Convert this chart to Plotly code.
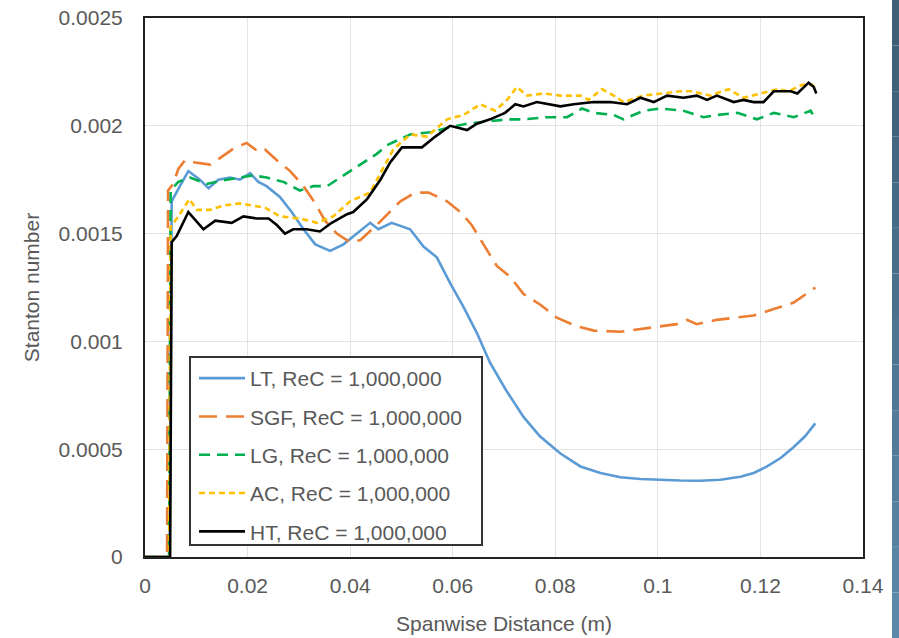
import plotly.graph_objects as go

# ---------------- data ----------------
lt_x = [0, 0.0048, 0.0052, 0.0062, 0.0068, 0.00845, 0.0107, 0.0124, 0.0143, 0.0166, 0.0185, 0.0205, 0.0221, 0.0237,
        0.0263, 0.0286, 0.0309, 0.0332, 0.0361, 0.0387, 0.0413, 0.0439, 0.0455, 0.0481, 0.0517, 0.0543, 0.0569,
        0.0595, 0.0621, 0.0647, 0.0673, 0.0705, 0.0738, 0.077, 0.081, 0.0849, 0.0888, 0.0927, 0.0966, 0.1005,
        0.1044, 0.1083, 0.1122, 0.1161, 0.1187, 0.1213, 0.124, 0.1265, 0.1287, 0.1307]
lt_y = [0, 0, 0.00165, 0.00169, 0.00172, 0.00179, 0.00175, 0.00171, 0.00175, 0.00176, 0.00175, 0.00178, 0.00174,
        0.00172, 0.00167, 0.0016, 0.00152, 0.00145, 0.00142, 0.00145, 0.0015, 0.00155, 0.00152, 0.00155, 0.00152,
        0.00144, 0.00139, 0.00127, 0.00116, 0.00104, 0.0009, 0.00077, 0.00065, 0.00056, 0.00048, 0.00042, 0.00039,
        0.00037, 0.000362, 0.000357, 0.000355, 0.000354, 0.000358, 0.000372, 0.00039, 0.00042, 0.00046, 0.00051,
        0.00056, 0.00062]

sgf_x = [0, 0.0043, 0.0045, 0.0055, 0.0065, 0.0078, 0.0098, 0.0127, 0.0146, 0.0176, 0.0198, 0.0221, 0.0234, 0.0257,
         0.0283, 0.0309, 0.0332, 0.0351, 0.0374, 0.04, 0.042, 0.0452, 0.0498, 0.0527, 0.0553, 0.0589, 0.0615, 0.0637,
         0.066, 0.0686, 0.0712, 0.0738, 0.0771, 0.0803, 0.0842, 0.0875, 0.0927, 0.0972, 0.1005, 0.1037, 0.1057,
         0.1076, 0.1115, 0.1148, 0.1187, 0.1226, 0.1265, 0.1307]
sgf_y = [0, 0, 0.0017, 0.00173, 0.0018, 0.00184, 0.00183, 0.00182, 0.00185, 0.0019, 0.00192, 0.00188, 0.00189,
         0.00184, 0.00179, 0.00172, 0.00164, 0.00156, 0.0015, 0.00146, 0.00147, 0.00154, 0.00165, 0.00169, 0.00169,
         0.00165, 0.0016, 0.00154, 0.00145, 0.00135, 0.0013, 0.00122, 0.00117, 0.00111, 0.00107, 0.00105, 0.001045,
         0.00106, 0.00107, 0.00108, 0.0011, 0.00108, 0.0011, 0.00111, 0.00112, 0.00115, 0.00118, 0.00125]

lg_x = [0, 0.0047, 0.005, 0.0065, 0.0088, 0.012, 0.0159, 0.0185, 0.0211, 0.0237, 0.027, 0.0302, 0.0328, 0.0355,
        0.0394, 0.042, 0.0452, 0.0472, 0.0517, 0.0556, 0.0589, 0.0628, 0.0673, 0.0706, 0.0738, 0.0784, 0.0823,
        0.0852, 0.0875, 0.0914, 0.0933, 0.0972, 0.1005, 0.105, 0.1089, 0.1115, 0.1155, 0.1193, 0.1226, 0.1265,
        0.1298, 0.1307]
lg_y = [0, 0, 0.0017, 0.00174, 0.00176, 0.00173, 0.00175, 0.00176, 0.00177, 0.00176, 0.00174, 0.0017, 0.00172,
        0.00172, 0.00178, 0.00182, 0.00187, 0.00191, 0.00196, 0.00197, 0.00199, 0.00201, 0.00202, 0.00203, 0.00203,
        0.00204, 0.00204, 0.00208, 0.00206, 0.00205, 0.00203, 0.00207, 0.00208, 0.00207, 0.00204, 0.00205, 0.00206,
        0.00203, 0.00206, 0.00204, 0.00207, 0.00203]

ac_x = [0, 0.0047, 0.005, 0.0065, 0.00865, 0.0101, 0.0127, 0.0153, 0.0185, 0.0211, 0.0234, 0.0263, 0.0302, 0.0335,
        0.0367, 0.04, 0.0439, 0.0459, 0.0484, 0.0517, 0.055, 0.0589, 0.0621, 0.0654, 0.0683, 0.0706, 0.0725, 0.0745,
        0.0777, 0.081, 0.0849, 0.0865, 0.0891, 0.0914, 0.0933, 0.0972, 0.1005, 0.1044, 0.1067, 0.1102, 0.1138,
        0.1167, 0.12, 0.1233, 0.1255, 0.1281, 0.1301, 0.1309]
ac_y = [0, 0, 0.00153, 0.00158, 0.00166, 0.00161, 0.00161, 0.00163, 0.00164, 0.00163, 0.00162, 0.00158, 0.00157,
        0.00155, 0.00158, 0.00165, 0.00169, 0.00178, 0.00189, 0.00196, 0.00195, 0.00203, 0.00205, 0.0021, 0.00207,
        0.00212, 0.00218, 0.00214, 0.00215, 0.00214, 0.00214, 0.00212, 0.00217, 0.00214, 0.00211, 0.00214, 0.00215,
        0.00216, 0.00216, 0.00214, 0.00217, 0.00213, 0.00215, 0.00217, 0.00216, 0.00219, 0.00219, 0.00217]

ht_x = [0, 0.0049, 0.0052, 0.0062, 0.00845, 0.0114, 0.0137, 0.0169, 0.0192, 0.0218, 0.0241, 0.0257, 0.0273, 0.0289,
        0.0315, 0.0341, 0.0364, 0.0394, 0.0406, 0.0433, 0.0459, 0.0478, 0.0501, 0.054, 0.0566, 0.0595, 0.0628,
        0.0647, 0.0673, 0.0702, 0.0722, 0.0738, 0.0764, 0.081, 0.0836, 0.0875, 0.0907, 0.094, 0.0966, 0.0992,
        0.1018, 0.105, 0.1076, 0.1096, 0.1115, 0.1148, 0.1167, 0.1187, 0.1206, 0.1226, 0.1259, 0.1272, 0.1294,
        0.1304, 0.1309]
ht_y = [0, 0, 0.00146, 0.00149, 0.0016, 0.00152, 0.00156, 0.00155, 0.00158, 0.00157, 0.00157, 0.00154, 0.0015,
        0.00152, 0.00152, 0.00151, 0.00155, 0.00159, 0.0016, 0.00166, 0.00175, 0.00183, 0.0019, 0.0019, 0.00195,
        0.002, 0.00198, 0.00201, 0.00203, 0.00206, 0.0021, 0.00209, 0.00211, 0.00209, 0.0021, 0.00211, 0.00211,
        0.0021, 0.00213, 0.00211, 0.00214, 0.00213, 0.00214, 0.00212, 0.00214, 0.00211, 0.00212, 0.00211, 0.00211,
        0.00216, 0.00216, 0.00215, 0.0022, 0.00218, 0.00215]

series_names = ["LT, ReC = 1,000,000", "SGF, ReC = 1,000,000", "LG, ReC = 1,000,000",
                "AC, ReC = 1,000,000", "HT, ReC = 1,000,000"]

x_tick_vals = [0, 0.02, 0.04, 0.06, 0.08, 0.1, 0.12, 0.14]
x_tick_text = ["0", "0.02", "0.04", "0.06", "0.08", "0.1", "0.12", "0.14"]
y_tick_vals = [0, 0.0005, 0.001, 0.0015, 0.002, 0.0025]
y_tick_text = ["0", "0.0005", "0.001", "0.0015", "0.002", "0.0025"]

# ---------------- figure ----------------
FONT = "Liberation Sans, Arial, sans-serif"
GRAY = "#595959"

styles = [
    dict(color="#5B9BD5", width=2.6, dash="solid"),
    dict(color="#ED7D31", width=2.6, dash="18px,9px"),
    dict(color="#00B050", width=2.6, dash="11px,7px"),
    dict(color="#FFC000", width=2.6, dash="6px,4px"),
    dict(color="#000000", width=2.6, dash="solid"),
]
data = [(lt_x, lt_y), (sgf_x, sgf_y), (lg_x, lg_y), (ac_x, ac_y), (ht_x, ht_y)]

fig = go.Figure()
for i, ((xs, ys), name, st) in enumerate(zip(data, series_names, styles)):
    fig.add_trace(go.Scatter(x=xs, y=ys, mode="lines", name=name, line=st,
                             legendgroup=f"g{i}"))

W, H = 899, 638
ML, MR, MT, MB = 145, 36, 18, 81
PW, PH = W - ML - MR, H - MT - MB


def px_x(p):
    return (p - ML) / PW


def px_y(p):
    return (H - MB - p) / PH


# decorative gradient bar at the right edge
top_c = (0x3D, 0x5E, 0x74)
bot_c = (0x5B, 0x89, 0xA9)
n = 14
y_top, y_bot = px_y(0), px_y(H)
shapes = []
for k in range(n):
    t = k / (n - 1)
    c = tuple(int(top_c[j] + (bot_c[j] - top_c[j]) * t) for j in range(3))
    y0 = y_top + (y_bot - y_top) * k / n
    y1 = y_top + (y_bot - y_top) * (k + 1) / n
    shapes.append(dict(type="rect", xref="paper", yref="paper",
                       x0=px_x(892), x1=px_x(912), y0=y0, y1=y1,
                       fillcolor="rgb(%d,%d,%d)" % c, line=dict(width=0), layer="above"))

# legend frame (white box behind legend entries)
shapes.append(dict(type="rect", xref="paper", yref="paper",
                   x0=px_x(190), x1=px_x(482), y0=px_y(545), y1=px_y(357),
                   fillcolor="white", line=dict(color="#333333", width=2), layer="above"))

fig.update_layout(
    width=W, height=H,
    margin=dict(l=ML, r=MR, t=MT, b=MB, autoexpand=False),
    paper_bgcolor="white", plot_bgcolor="white",
    font=dict(family=FONT, size=21, color=GRAY),
    shapes=shapes,
    showlegend=True,
    legend=dict(x=px_x(194), y=px_y(358), xanchor="left", yanchor="top",
                bgcolor="rgba(0,0,0,0)", borderwidth=0,
                font=dict(family=FONT, size=21, color=GRAY),
                tracegroupgap=8, itemwidth=46),
    xaxis=dict(range=[0, 0.14], tickvals=x_tick_vals, ticktext=x_tick_text,
               showgrid=True, gridcolor="#E3E3E3", gridwidth=1, zeroline=False,
               showline=True, linecolor="#222222", linewidth=2, mirror=True,
               ticks="", ticklabelstandoff=9, automargin=False,
               title=dict(text="Spanwise Distance (m)", standoff=20,
                          font=dict(family=FONT, size=21, color=GRAY))),
    yaxis=dict(range=[0, 0.0025], tickvals=y_tick_vals, ticktext=y_tick_text,
               showgrid=True, gridcolor="#E3E3E3", gridwidth=1, zeroline=False,
               showline=True, linecolor="#222222", linewidth=2, mirror=True,
               ticks="", ticklabelstandoff=16, automargin=False,
               title=dict(text="Stanton number", standoff=13,
                          font=dict(family=FONT, size=21, color=GRAY))),
)

fig.write_html("out.html", config={"displayModeBar": False},
               post_script="document.body.style.margin='0px';document.body.style.overflow='hidden';")
